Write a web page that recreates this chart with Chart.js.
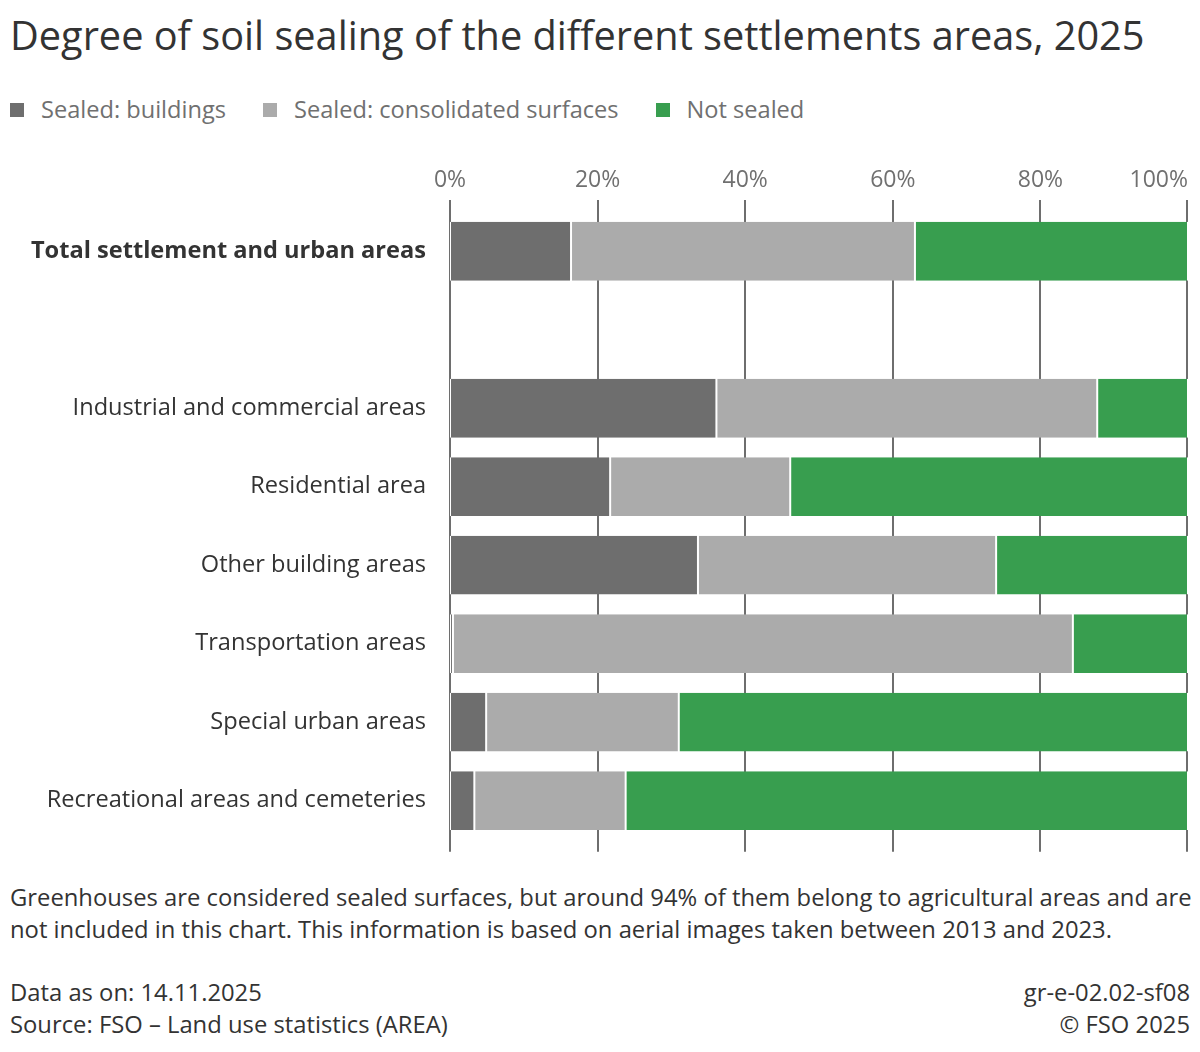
<!DOCTYPE html>
<html>
<head>
<meta charset="utf-8">
<script src="https://cdn.jsdelivr.net/npm/chart.js@4.4.1/dist/chart.umd.min.js"></script>
<style>
  body { margin: 0; background: #fff; font-family: "Open Sans", sans-serif; color: #333; }
  #page { position: relative; width: 1200px; height: 1052px; overflow: hidden; }
  .abs { position: absolute; white-space: nowrap; }
  #title { left: 10px; top: 8px; font-size: 39.7px; line-height: 54px; color: #333; }
  #legend { left: 10px; top: 93px; font-size: 23.6px; line-height: 32px; color: #707070; }
  #legend span.item { margin-right: 37px; }
  #legend i { display: inline-block; width: 14px; height: 14px; margin-right: 17px; vertical-align: 1px; }
  #wrap { left: 0; top: 150px; width: 1200px; height: 720px; }
  .foot { font-size: 23.8px; line-height: 31.5px; color: #333; }
</style>
</head>
<body>
<div id="page">
  <div id="title" class="abs">Degree of soil sealing of the different settlements areas, 2025</div>
  <div id="legend" class="abs"></div>
  <div id="wrap" class="abs"><canvas id="chart1"></canvas></div>
  <div class="abs foot" style="left:10px; top:882px;">Greenhouses are considered sealed surfaces, but around 94% of them belong to agricultural areas and are<br>not included in this chart. This information is based on aerial images taken between 2013 and 2023.</div>
  <div class="abs foot" style="left:10px; top:977px;">Data as on: 14.11.2025<br>Source: FSO – Land use statistics (AREA)</div>
  <div class="abs foot" style="right:10px; top:977px; text-align:right;">gr-e-02.02-sf08<br>© FSO 2025</div>
</div>
<script>
// categories (the empty one is the gap under the total)
const categories = [
    "Total settlement and urban areas",
    "",
    "Industrial and commercial areas",
    "Residential area",
    "Other building areas",
    "Transportation areas",
    "Special urban areas",
    "Recreational areas and cemeteries"
];

// shares in %
const sealedBuildings     = [16.4, null, 36.1, 21.7, 33.6, 0.4, 4.9, 3.3];
const sealedConsolidated  = [46.6, null, 51.6, 24.4, 40.4, 84.0, 26.1, 20.5];
const notSealed           = [37.0, null, 12.3, 53.9, 26.0, 15.6, 69.0, 76.2];

const xTicks = [0, 20, 40, 60, 80, 100];

const seriesNames = ["Sealed: buildings", "Sealed: consolidated surfaces", "Not sealed"];
const seriesColors = ["#6e6e6e", "#ababab", "#389e4f"];

// html legend
const legendEl = document.getElementById("legend");
seriesNames.forEach(function (name, i) {
    const s = document.createElement("span");
    s.className = "item";
    s.innerHTML = '<i style="background:' + seriesColors[i] + '"></i>' + name;
    legendEl.appendChild(s);
});

// gridlines that stick out of the plot area, plus the percent labels on top
const gridPlugin = {
    id: "gridPlugin",
    beforeDatasetsDraw: function (chart) {
        const ctx = chart.ctx;
        const x = chart.scales.x;
        const area = chart.chartArea;
        ctx.save();
        ctx.strokeStyle = "#6e6e6e";
        ctx.lineWidth = 2;
        xTicks.forEach(function (v) {
            let px = Math.round(x.getPixelForValue(v));
            if (v === 100) px -= 1;
            ctx.beginPath();
            ctx.moveTo(px, area.top - 12);
            ctx.lineTo(px, area.bottom + 12);
            ctx.stroke();
        });
        ctx.fillStyle = "#707070";
        ctx.font = '23px "Open Sans"';
        ctx.textBaseline = "middle";
        xTicks.forEach(function (v) {
            const px = x.getPixelForValue(v);
            const label = v + "%";
            const w = ctx.measureText(label).width;
            let left = px - w / 2;
            if (left + w > chart.width - 12) left = chart.width - 12 - w;
            ctx.fillText(label, left, area.top - 32);
        });
        ctx.restore();
    }
};

function makeSet(i, values) {
    return {
        label: seriesNames[i],
        data: values,
        backgroundColor: seriesColors[i],
        borderColor: "#ffffff",
        borderWidth: { left: 1, right: 1, top: 0, bottom: 0 },
        borderSkipped: false,
        barPercentage: 0.75,
        categoryPercentage: 1
    };
}

new Chart(document.getElementById("chart1"), {
    type: "bar",
    data: {
        labels: categories,
        datasets: [
            makeSet(0, sealedBuildings),
            makeSet(1, sealedConsolidated),
            makeSet(2, notSealed)
        ]
    },
    options: {
        indexAxis: "y",
        responsive: true,
        maintainAspectRatio: false,
        animation: false,
        layout: { padding: { top: 62, bottom: 16, right: 12, left: 0 } },
        scales: {
            x: {
                stacked: true,
                min: 0,
                max: 100,
                display: false
            },
            y: {
                stacked: true,
                grid: { display: false },
                border: { display: false },
                afterFit: function (scale) { scale.width = 450; },
                ticks: {
                    color: "#333",
                    padding: 16,
                    font: function (c) {
                        return { family: "Open Sans", size: 23.6, weight: c.index === 0 ? "bold" : "normal" };
                    }
                }
            }
        },
        plugins: {
            legend: { display: false },
            tooltip: { enabled: false }
        }
    },
    plugins: [gridPlugin]
});
</script>
</body>
</html>
